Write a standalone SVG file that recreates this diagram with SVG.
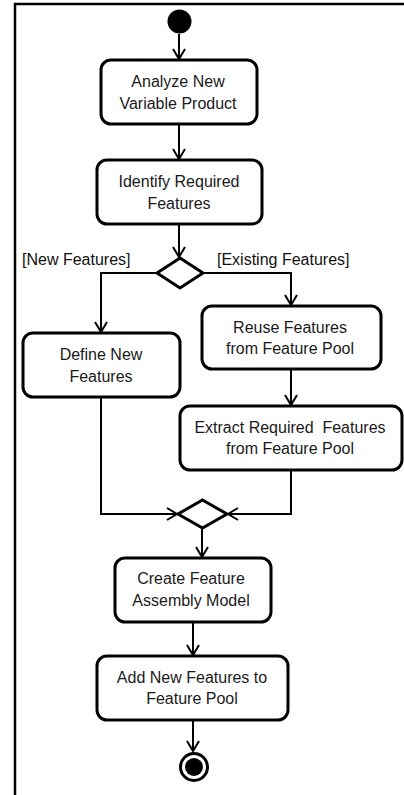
<svg xmlns="http://www.w3.org/2000/svg" width="404" height="795" viewBox="0 0 404 795">
  <style>
    .box { fill: #fff; stroke: #000; stroke-width: 3; }
    .dec { fill: #fff; stroke: #000; stroke-width: 3; stroke-linejoin: miter; }
    .lbl { font-family: "Liberation Sans", Arial, sans-serif; font-size: 16px; fill: #1a1a1a; text-anchor: middle; }
    .guard { font-family: "Liberation Sans", Arial, sans-serif; font-size: 16px; fill: #111; }
    .flow { fill: none; stroke: #000; stroke-width: 2; marker-end: url(#arr); }
    .plain { fill: none; stroke: #000; stroke-width: 2; }
  </style>
  <defs>
    <marker id="arr" markerUnits="userSpaceOnUse" markerWidth="14" markerHeight="16" viewBox="0 0 14 16" refX="12" refY="8" orient="auto">
      <path d="M2,2 L12,8 L2,14" fill="none" stroke="#000" stroke-width="2"/>
    </marker>
  </defs>
  <rect width="404" height="795" fill="#fff"/>

  <!-- frame -->
  <path d="M15,795 V4 H404" fill="none" stroke="#000" stroke-width="2.5"/>

  <!-- connectors -->
  <g id="connectors">
    <path class="flow" d="M179,34 V59"/>
    <path class="flow" d="M179,125 V159"/>
    <path class="flow" d="M179,225 V257"/>
    <path class="flow" d="M157,273 H101 V332"/>
    <path class="flow" d="M203,273 H291 V305"/>
    <path class="flow" d="M291,370 V405"/>
    <path class="flow" d="M101,398 V514 H177"/>
    <path class="flow" d="M291,471 V514 H228"/>
    <path class="flow" d="M202,528 V557"/>
    <path class="flow" d="M193,623 V655"/>
    <path class="flow" d="M193,721 V751"/>
  </g>

  <!-- initial node -->
  <g id="start">
    <circle cx="179.5" cy="21.5" r="12" fill="#000"/>
  </g>

  <g id="analyze">
    <rect class="box" x="101" y="60" width="156" height="64" rx="10"/>
    <text class="lbl" x="178" y="87">Analyze New</text>
    <text class="lbl" x="178" y="109">Variable Product</text>
  </g>

  <g id="identify">
    <rect class="box" x="97" y="160" width="165" height="64" rx="10"/>
    <text class="lbl" x="179" y="187">Identify Required</text>
    <text class="lbl" x="179" y="209">Features</text>
  </g>

  <g id="decision">
    <path class="dec" d="M180,258 L203,273 L180,288 L157,273 Z"/>
    <text class="guard" x="22" y="265">[New Features]</text>
    <text class="guard" x="217" y="265">[Existing Features]</text>
  </g>

  <g id="define">
    <rect class="box" x="23" y="333" width="157" height="64" rx="10"/>
    <text class="lbl" x="101" y="360">Define New</text>
    <text class="lbl" x="101" y="382">Features</text>
  </g>

  <g id="reuse">
    <rect class="box" x="202" y="306" width="179" height="63" rx="10"/>
    <text class="lbl" x="290" y="333">Reuse Features</text>
    <text class="lbl" x="290" y="354">from Feature Pool</text>
  </g>

  <g id="extract">
    <rect class="box" x="180" y="406" width="222" height="64" rx="10"/>
    <text class="lbl" x="290" y="433" xml:space="preserve">Extract Required  Features</text>
    <text class="lbl" x="290" y="454">from Feature Pool</text>
  </g>

  <g id="merge">
    <path class="dec" d="M202.5,500 L227,514 L202.5,528 L178,514 Z"/>
  </g>

  <g id="assembly">
    <rect class="box" x="115" y="558" width="156" height="64" rx="10"/>
    <text class="lbl" x="191" y="584">Create Feature</text>
    <text class="lbl" x="191" y="606">Assembly Model</text>
  </g>

  <g id="addpool">
    <rect class="box" x="97" y="656" width="191" height="64" rx="10"/>
    <text class="lbl" x="192" y="683">Add New Features to</text>
    <text class="lbl" x="192" y="704">Feature Pool</text>
  </g>

  <!-- final node -->
  <g id="end">
    <circle cx="194" cy="767" r="13.5" fill="#fff" stroke="#000" stroke-width="3"/>
    <circle cx="194" cy="767" r="9" fill="#000"/>
  </g>
</svg>
